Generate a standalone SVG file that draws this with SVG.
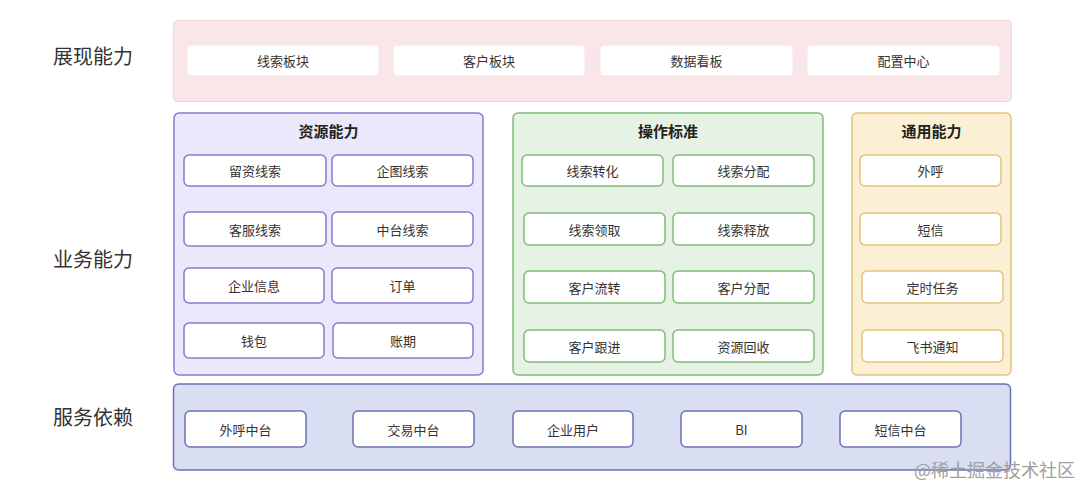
<svg xmlns="http://www.w3.org/2000/svg" width="1080" height="490" viewBox="0 0 1080 490">
<style>
text{font-family:"Noto Sans CJK SC","Liberation Sans",sans-serif;fill:#333;}
.lbl{font-size:20px;}
.t{font-size:13px;text-anchor:middle;dominant-baseline:central;}
.h{font-size:15px;font-weight:bold;text-anchor:middle;dominant-baseline:central;fill:#222;}
.pink{fill:#fae6e8;stroke:#f1d6d9;stroke-width:1;}
.pbox{fill:#fff;stroke:#f3e3e5;stroke-width:1;}
.purple{fill:#ece8fb;stroke:#8a79cf;stroke-width:1.5;}
.ubox{fill:#fff;stroke:#8a79cf;stroke-width:1.5;}
.green{fill:#e6f3e4;stroke:#7fbc79;stroke-width:1.5;}
.gbox{fill:#fff;stroke:#7fbc79;stroke-width:1.5;}
.yellow{fill:#fbf0d4;stroke:#e2c47c;stroke-width:1.5;}
.ybox{fill:#fff;stroke:#e2c47c;stroke-width:1.5;}
.blue{fill:#d9def2;stroke:#6c72b4;stroke-width:1.5;}
.bbox{fill:#fff;stroke:#6c72b4;stroke-width:1.5;}
</style>
<rect width="1080" height="490" fill="#fff"/>
<text class="lbl" x="53" y="64">展现能力</text>
<text class="lbl" x="53" y="267">业务能力</text>
<text class="lbl" x="53" y="425">服务依赖</text>

<g id="present">
<rect class="pink" x="173.5" y="20.5" width="838" height="81" rx="4"/>
<g id="n-xsbk"><rect class="pbox" x="187" y="45" width="192" height="31" rx="4"/><text class="t" x="283" y="60.5">线索板块</text></g>
<g id="n-khbk"><rect class="pbox" x="393" y="45" width="192" height="31" rx="4"/><text class="t" x="489" y="60.5">客户板块</text></g>
<g id="n-sjkb"><rect class="pbox" x="600" y="45" width="193" height="31" rx="4"/><text class="t" x="696.5" y="60.5">数据看板</text></g>
<g id="n-pzzx"><rect class="pbox" x="807" y="45" width="193" height="31" rx="4"/><text class="t" x="903.5" y="60.5">配置中心</text></g>
</g>

<g id="resource">
<rect class="purple" x="174" y="113" width="309" height="262" rx="5"/>
<text class="h" x="328.5" y="130">资源能力</text>
<g id="n-lzxs"><rect class="ubox" x="184" y="155" width="142" height="31" rx="5"/><text class="t" x="255" y="170.5">留资线索</text></g>
<g id="n-qtxs"><rect class="ubox" x="332" y="155" width="141" height="31" rx="5"/><text class="t" x="402.5" y="170.5">企图线索</text></g>
<g id="n-kfxs"><rect class="ubox" x="184" y="212" width="142" height="34" rx="5"/><text class="t" x="255" y="229">客服线索</text></g>
<g id="n-ztxs"><rect class="ubox" x="332" y="212" width="141" height="34" rx="5"/><text class="t" x="402.5" y="229">中台线索</text></g>
<g id="n-qyxx"><rect class="ubox" x="184" y="268" width="140" height="35" rx="5"/><text class="t" x="254" y="285.5">企业信息</text></g>
<g id="n-dd"><rect class="ubox" x="332" y="268" width="141" height="35" rx="5"/><text class="t" x="402.5" y="285.5">订单</text></g>
<g id="n-qb"><rect class="ubox" x="184" y="323" width="140" height="35" rx="5"/><text class="t" x="254" y="340.5">钱包</text></g>
<g id="n-zq"><rect class="ubox" x="333" y="323" width="140" height="35" rx="5"/><text class="t" x="403" y="340.5">账期</text></g>
</g>

<g id="operation">
<rect class="green" x="513" y="113" width="310" height="262" rx="5"/>
<text class="h" x="668" y="130">操作标准</text>
<g id="n-xszh"><rect class="gbox" x="522" y="155" width="141" height="31" rx="5"/><text class="t" x="592.5" y="170.5">线索转化</text></g>
<g id="n-xsfp"><rect class="gbox" x="673" y="155" width="141" height="31" rx="5"/><text class="t" x="743.5" y="170.5">线索分配</text></g>
<g id="n-xslq"><rect class="gbox" x="524" y="213" width="141" height="32" rx="5"/><text class="t" x="594.5" y="229">线索领取</text></g>
<g id="n-xssf"><rect class="gbox" x="673" y="213" width="141" height="32" rx="5"/><text class="t" x="743.5" y="229">线索释放</text></g>
<g id="n-khlz"><rect class="gbox" x="524" y="271" width="141" height="32" rx="5"/><text class="t" x="594.5" y="287">客户流转</text></g>
<g id="n-khfp"><rect class="gbox" x="673" y="271" width="141" height="32" rx="5"/><text class="t" x="743.5" y="287">客户分配</text></g>
<g id="n-khgj"><rect class="gbox" x="524" y="330" width="141" height="32" rx="5"/><text class="t" x="594.5" y="346">客户跟进</text></g>
<g id="n-zyhs"><rect class="gbox" x="673" y="330" width="141" height="32" rx="5"/><text class="t" x="743.5" y="346">资源回收</text></g>
</g>

<g id="common">
<rect class="yellow" x="852" y="113" width="159" height="262" rx="5"/>
<text class="h" x="931.5" y="130">通用能力</text>
<g id="n-wh"><rect class="ybox" x="860" y="155" width="141" height="31" rx="5"/><text class="t" x="930.5" y="170.5">外呼</text></g>
<g id="n-dx"><rect class="ybox" x="860" y="213" width="141" height="32" rx="5"/><text class="t" x="930.5" y="229">短信</text></g>
<g id="n-dsrw"><rect class="ybox" x="862" y="271" width="141" height="32" rx="5"/><text class="t" x="932.5" y="287">定时任务</text></g>
<g id="n-fstz"><rect class="ybox" x="862" y="330" width="141" height="32" rx="5"/><text class="t" x="932.5" y="346">飞书通知</text></g>
</g>

<g id="depend">
<rect class="blue" x="173.5" y="384" width="837" height="86" rx="5"/>
<g id="n-whzt"><rect class="bbox" x="185" y="411" width="121" height="36" rx="5"/><text class="t" x="245.5" y="429">外呼中台</text></g>
<g id="n-jyzt"><rect class="bbox" x="353" y="411" width="121" height="36" rx="5"/><text class="t" x="413.5" y="429">交易中台</text></g>
<g id="n-qyyh"><rect class="bbox" x="513" y="411" width="120" height="36" rx="5"/><text class="t" x="573" y="429">企业用户</text></g>
<g id="n-bi"><rect class="bbox" x="681" y="411" width="121" height="36" rx="5"/><text class="t" x="741.5" y="429">BI</text></g>
<g id="n-dxzt"><rect class="bbox" x="840" y="411" width="121" height="36" rx="5"/><text class="t" x="900.5" y="429">短信中台</text></g>
</g>

<g id="connectors"/>
<text x="1075" y="477" style="font-size:18px;text-anchor:end;fill:#a0a0a0;font-family:'Noto Sans CJK SC',sans-serif;">@稀土掘金技术社区</text>
</svg>
